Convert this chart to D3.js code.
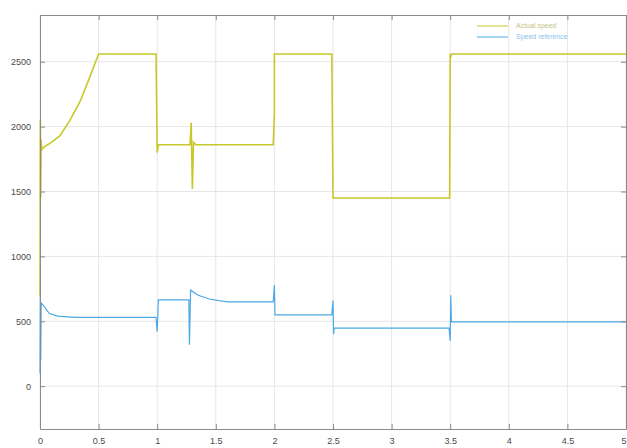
<!DOCTYPE html>
<html lang="en">
<head>
<meta charset="UTF-8" />
<title>Speed chart</title>
<script src="https://d3js.org/d3.v7.min.js"></script>
<style>
  body { margin: 0; background: #fff; }
  .tick text { font-family: "Liberation Sans", sans-serif; font-size: 9px; fill: #4a4a4a; }
  .grid line { stroke: #e6e6e6; }
</style>
</head>
<body>
<svg width="627" height="448"></svg>
<script>
// series 1 (yellow)
const timeA = [0, 0.003, 0.006, 0.01, 0.015, 0.03, 0.1, 0.17, 0.25, 0.34, 0.42, 0.5, 0.99, 1.0, 1.01, 1.28, 1.29, 1.30, 1.31, 1.33, 1.99, 2.0, 2.0, 2.005, 2.49, 2.5, 3.495, 3.5, 3.503, 3.51, 5];
const valueA = [700, 2050, 1450, 1900, 1820, 1840, 1880, 1930, 2040, 2190, 2370, 2560, 2560, 1800, 1860, 1860, 2030, 1520, 1880, 1860, 1860, 2100, 2560, 2560, 2560, 1450, 1450, 2560, 2530, 2560, 2560];
// series 2 (blue)
const timeB = [0, 0.003, 0.006, 0.01, 0.03, 0.08, 0.15, 0.3, 0.99, 1.0, 1.01, 1.27, 1.275, 1.285, 1.35, 1.45, 1.6, 1.99, 2.0, 2.005, 2.49, 2.5, 2.505, 2.51, 3.49, 3.5, 3.505, 3.51, 5];
const valueB = [100, 780, 200, 640, 620, 560, 540, 530, 530, 420, 665, 665, 320, 740, 700, 670, 650, 650, 780, 550, 550, 660, 400, 448, 448, 350, 700, 495, 495];

const seriesNames = ["Actual speed", "Speed reference"];
const seriesColors = ["#c8c82a", "#4da8e6"];
const xTicks = [0, 0.5, 1, 1.5, 2, 2.5, 3, 3.5, 4, 4.5, 5];
const yTicks = [0, 500, 1000, 1500, 2000, 2500];

const svg = d3.select("svg");
const plotLeft = 40, plotRight = 626, plotTop = 15, plotBottom = 429;

const x = d3.scaleLinear().domain([0, 5]).range([plotLeft, plotRight]);
const y = d3.scaleLinear().domain([-330, 2860]).range([plotBottom, plotTop]);

// grid
svg.append("g").attr("class", "grid")
    .selectAll("line").data(xTicks).enter().append("line")
    .attr("x1", d => x(d)).attr("x2", d => x(d))
    .attr("y1", plotTop).attr("y2", plotBottom);
svg.append("g").attr("class", "grid")
    .selectAll("line").data(yTicks).enter().append("line")
    .attr("x1", plotLeft).attr("x2", plotRight)
    .attr("y1", d => y(d)).attr("y2", d => y(d));

// lines
const line = d3.line().x(d => x(d[0])).y(d => y(d[1]));
const dataA = timeA.map((t, i) => [t, valueA[i]]);
const dataB = timeB.map((t, i) => [t, valueB[i]]);

svg.append("path").datum(dataB)
    .attr("fill", "none").attr("stroke", seriesColors[1]).attr("stroke-width", 1.2)
    .attr("d", line);
svg.append("path").datum(dataA)
    .attr("fill", "none").attr("stroke", seriesColors[0]).attr("stroke-width", 1.6)
    .attr("d", line);

// axes (ticks inside, box on all sides)
const axisColor = "#8a8a8a";
const xAxis = svg.append("g").attr("transform", `translate(0,${plotBottom})`)
    .call(d3.axisBottom(x).tickValues(xTicks).tickSizeInner(-5).tickSizeOuter(0).tickPadding(9)
        .tickFormat(d3.format("~g")));
// last label sits at the window edge, keep it inside
xAxis.selectAll(".tick text").filter(d => d === 5).attr("text-anchor", "end");
const yAxis = svg.append("g").attr("transform", `translate(${plotLeft},0)`)
    .call(d3.axisLeft(y).tickValues(yTicks).tickSizeInner(-5).tickSizeOuter(0).tickPadding(9)
        .tickFormat(d3.format("d")));
const xTop = svg.append("g").attr("transform", `translate(0,${plotTop})`)
    .call(d3.axisTop(x).tickValues(xTicks).tickSizeInner(-5).tickSizeOuter(0).tickFormat(""));
const yRight = svg.append("g").attr("transform", `translate(${plotRight},0)`)
    .call(d3.axisRight(y).tickValues(yTicks).tickSizeInner(-5).tickSizeOuter(0).tickFormat(""));
[xAxis, yAxis, xTop, yRight].forEach(g => {
    g.select(".domain").attr("stroke", axisColor);
    g.selectAll(".tick line").attr("stroke", axisColor);
});

// legend
const legend = svg.append("g");
seriesNames.forEach((name, i) => {
    const ly = 26 + i * 11;
    legend.append("line")
        .attr("x1", 477).attr("x2", 508).attr("y1", ly).attr("y2", ly)
        .attr("stroke", seriesColors[i]).attr("stroke-width", 1);
    legend.append("text")
        .attr("x", 516).attr("y", ly)
        .attr("dominant-baseline", "middle")
        .attr("font-family", "Liberation Sans, sans-serif")
        .attr("font-size", "7px")
        .attr("fill", i === 0 ? "#c4c48a" : "#8cc2ea")
        .text(name);
});
</script>
</body>
</html>
